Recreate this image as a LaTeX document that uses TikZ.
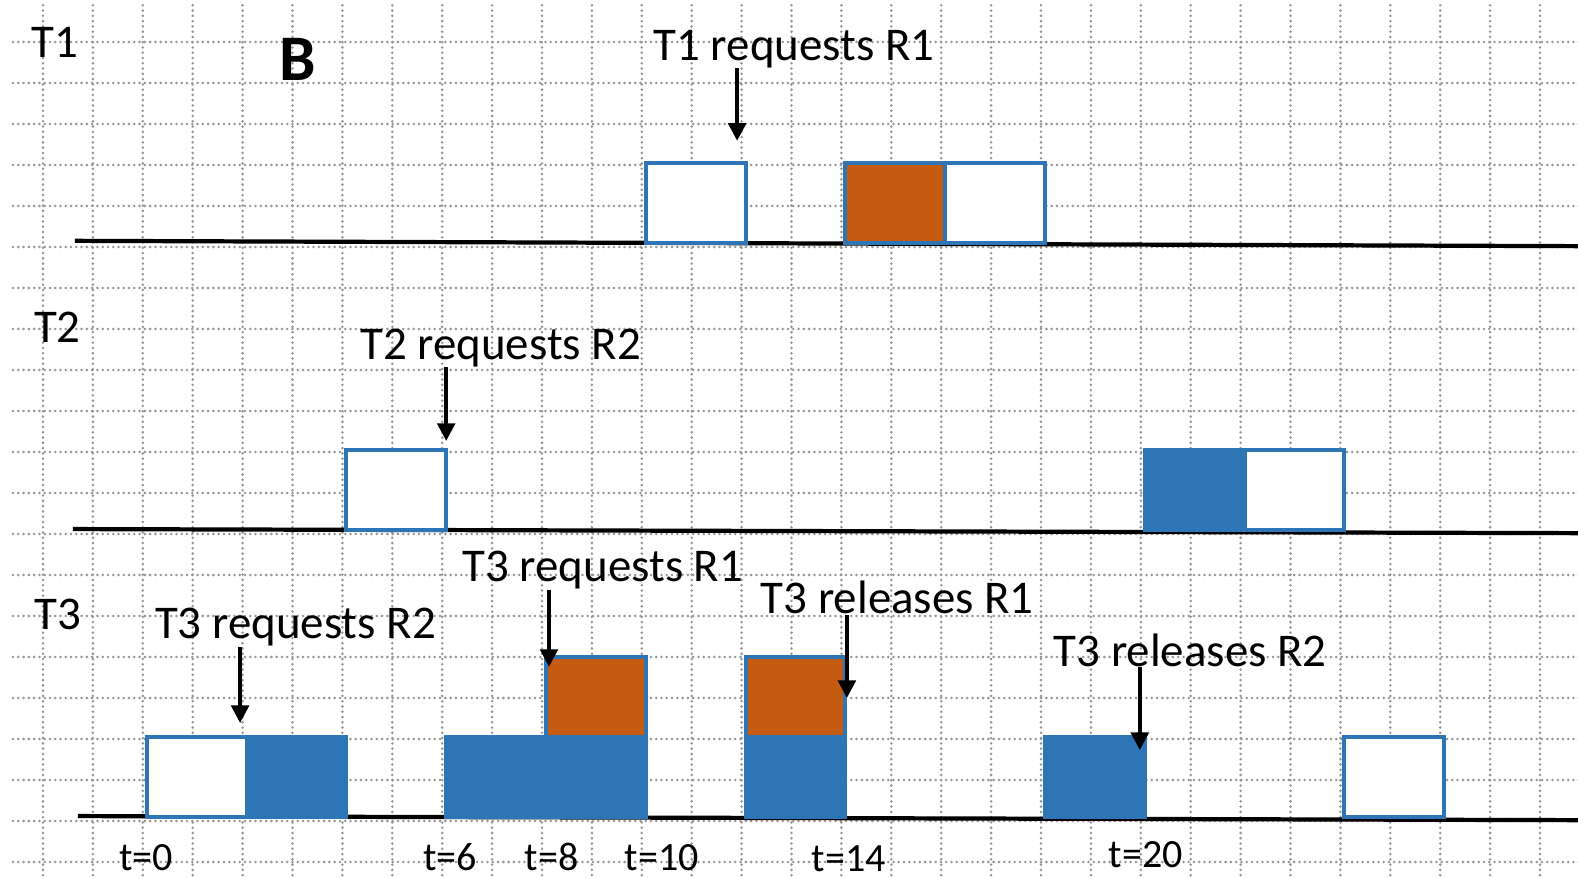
\documentclass[tikz,border=0pt]{standalone}
\usepackage{fontspec}
\setmainfont{Carlito}
\usetikzlibrary{arrows.meta, calc}
\definecolor{slotblue}{RGB}{46,117,182}
\definecolor{slotorange}{RGB}{197,90,17}
\tikzset{
    dotgrid/.style = {draw=black!42, line width=1.6pt, line cap=round, dash pattern=on 0pt off 3pt},
    tline/.style = {draw=black, line width=2.4pt},
    slot/.style = {draw=slotblue, line width=2.3pt, xshift=0.08cm},
    free/.style = {slot, fill=white},
    rtwo/.style = {slot, fill=slotblue},
    rone/.style = {slot, fill=slotorange},
    note/.style = {font=\fontsize{26.7}{30}\selectfont, inner sep=0pt, anchor=base},
    tick/.style = {font=\fontsize{22.8}{26}\selectfont, inner sep=0pt, anchor=base},
    marker/.style = {-{Triangle[width=10pt,length=10pt]}, line width=2.1pt},
}

\begin{document}
\begin{tikzpicture}[x=0.998cm, y=0.82cm]
\useasboundingbox (-0.86cm,-0.32cm) rectangle (30.70cm,17.24cm);

\foreach \i in {0,...,30}
    \draw[dotgrid] (\i,-0.45) -- (\i,20.9);
\foreach \j in {0,...,20}
    \draw[dotgrid] (-0.6,\j) -- (30.8,\j);

\begin{scope}[shift={(0,15.1)}]
\draw[tline] (0.64,0.05) -- (30.8,-0.08);
\draw[free] (12,0) rectangle ++(2,1.95);
\draw[rone] (16,0) rectangle ++(2,1.95);
\draw[free] (18,0) rectangle ++(2,1.95);
\node[note] (t1) at (0.23,4.51) {T1};
\node[note, font=\fontsize{37}{40}\selectfont\bfseries] (part) at (5.11,3.97) {B};
\node[note] (req1) at (15.05,4.46) {T1 requests R1};
\coordinate (a1) at (13.91,2.49);
\draw[marker] (req1.south -| a1) -- (a1);
\end{scope}

\begin{scope}[shift={(0,8.1)}]
\draw[tline] (0.6,0.02) -- (30.8,-0.08);
\draw[free] (6,0) rectangle ++(2,1.95);
\draw[rtwo] (22,0) rectangle ++(2,1.95);
\draw[free] (24,0) rectangle ++(2,1.95);
\node[note] (t2) at (0.29,4.56) {T2};
\node[note] (req2) at (9.17,4.16) {T2 requests R2};
\coordinate (a2) at (8.08,2.17);
\draw[marker] (req2.south -| a2) -- (a2);
\end{scope}

\begin{scope}[shift={(0,1.1)}]
\draw[tline] (0.7,0.02) -- (30.8,-0.08);
\draw[free] (2,0) rectangle ++(2,1.95);
\draw[rtwo] (4,0) rectangle ++(2,1.95);
\draw[rtwo] (8,0) rectangle ++(4,1.95);
\draw[rone] (10,1.95) rectangle ++(2,1.95);
\draw[rtwo] (14,0) rectangle ++(2,1.95);
\draw[rone] (14,1.95) rectangle ++(2,1.95);
\draw[rtwo] (20,0) rectangle ++(2,1.95);
\draw[free] (26,0) rectangle ++(2,1.95);
\node[note] (t3) at (0.3,4.58) {T3};

\node[note] (req3) at (5.06,4.34) {T3 requests R2};
\coordinate (a3) at (3.95,2.29);
\draw[marker] (req3.south -| a3) -- (a3);
\node[note] (req4) at (11.22,5.73) {T3 requests R1};
\coordinate (a4) at (10.14,3.66);
\draw[marker] (req4.south -| a4) -- (a4);
\node[note] (rel1) at (17.12,4.95) {T3 releases R1};
\coordinate (a5) at (16.11,2.9);
\draw[marker] (rel1.south -| a5) -- (a5);
\node[note] (rel2) at (22.99,3.68) {T3 releases R2};
\coordinate (a6) at (21.98,1.63);
\draw[marker] (rel2.south -| a6) -- (a6);

\node[tick] (tk0) at (2.07,-1.3) {t=0};
\node[tick] (tk6) at (8.16,-1.3) {t=6};
\node[tick] (tk8) at (10.19,-1.3) {t=8};
\node[tick] (tk10) at (12.4,-1.3) {t=10};
\node[tick] (tk14) at (16.15,-1.32) {t=14};
\node[tick] (tk20) at (22.1,-1.23) {t=20};
\end{scope}

\end{tikzpicture}
\end{document}
